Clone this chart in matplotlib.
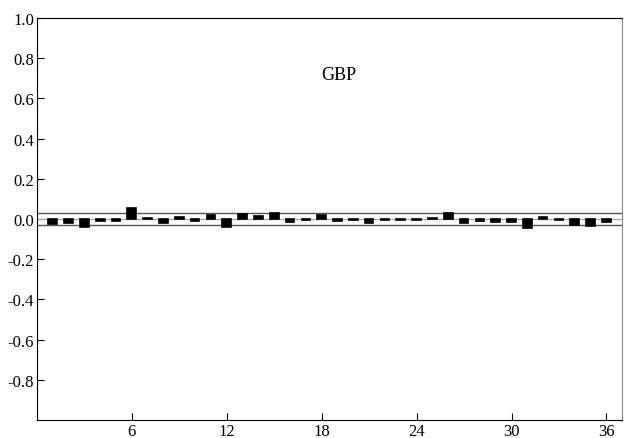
import matplotlib
matplotlib.use("Agg")
import matplotlib.pyplot as plt

plt.rcParams['font.family'] = ['Liberation Serif', 'DejaVu Serif']
plt.rcParams['axes.unicode_minus'] = False

# Autokorrelationen GBP, Lags 1..36
lags = list(range(1, 37))
acf = [-0.025, -0.018, -0.038, -0.010, -0.010, 0.052, 0.005, -0.022, 0.012, -0.008,
       0.022, -0.040, 0.023, 0.015, 0.028, -0.013, -0.007, 0.018, -0.010, -0.005,
       -0.020, -0.007, -0.003, -0.006, 0.005, 0.030, -0.022, -0.010, -0.015, -0.016,
       -0.045, 0.012, -0.005, -0.028, -0.033, -0.013]
band = 0.032
x_ticks = [6, 12, 18, 24, 30, 36]
y_ticks = [-0.8, -0.6, -0.4, -0.2, 0.0, 0.2, 0.4, 0.6, 0.8, 1.0]

fig = plt.figure(figsize=(6.26, 4.39), dpi=100)
ax = fig.add_axes([0.059, 0.041, 0.935, 0.916])

# Konfidenzband und Nulllinie
ax.axhline(band, color='#555555', linewidth=1)
ax.axhline(-band, color='#555555', linewidth=1)
ax.axhline(0, color='#aaaaaa', linewidth=1)

# Balken (mit Rand, damit kleine Werte sichtbar bleiben)
ax.bar(lags, acf, width=0.55, color='black', edgecolor='black', linewidth=1.2, zorder=3)

ax.text(19.1, 0.72, 'GBP', ha='center', va='center', fontsize=13)

ax.set_xlim(0, 37)
ax.set_ylim(-1.0, 1.0)
ax.set_xticks(x_ticks)
ax.set_yticks(y_ticks)
ax.set_yticklabels([f'{v:.1f}' for v in y_ticks])
ax.tick_params(direction='in', length=5, labelsize=12, pad=2, top=False, right=False)
ax.spines['right'].set_color('#888888')

fig.savefig('out.png', dpi=100)
